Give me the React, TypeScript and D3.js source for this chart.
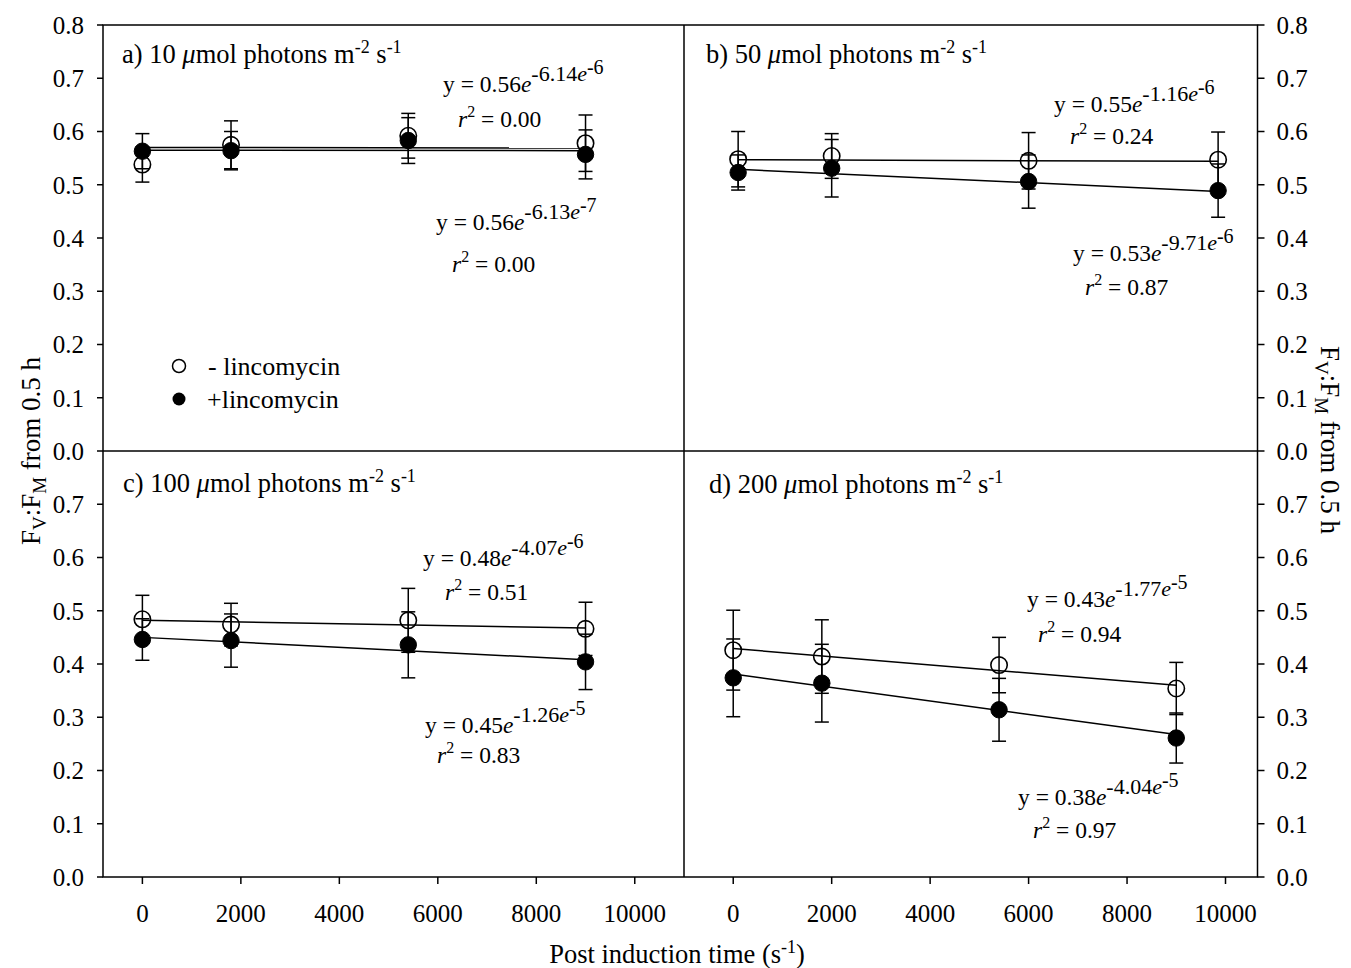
import React from 'react';
import * as d3 from 'd3';

const W = 1351;
const H = 968;
const LEFT = 103;
const MID_X = 684;
const RIGHT = 1257.5;
const TOP = 25;
const MID_Y = 451;
const BOTTOM = 877;
const FONT = '"Liberation Serif", "Times New Roman", serif';

// panel labels and light intensity (umol photons m-2 s-1)
const PANEL_LETTERS = ['a', 'b', 'c', 'd'];
const INTENSITIES = [10, 50, 100, 200];

// sampling times (s)
const TIMES_A = [0, 1800, 5400, 9000];
const TIMES_B = [100, 2000, 6000, 9850];
const TIMES_C = [0, 1800, 5400, 9000];
const TIMES_D = [0, 1800, 5400, 9000];

// - lincomycin (open) means and errors
const OPEN_A = [0.538, 0.575, 0.592, 0.578];
const OPEN_ERR_A = [0.033, 0.045, 0.042, 0.053];
const OPEN_B = [0.548, 0.554, 0.545, 0.547];
const OPEN_ERR_B = [0.052, 0.042, 0.053, 0.052];
const OPEN_C = [0.484, 0.474, 0.482, 0.466];
const OPEN_ERR_C = [0.045, 0.04, 0.06, 0.05];
const OPEN_D = [0.426, 0.414, 0.398, 0.354];
const OPEN_ERR_D = [0.075, 0.069, 0.052, 0.049];

// + lincomycin (filled) means and errors
const FILLED_A = [0.563, 0.564, 0.583, 0.557];
const FILLED_ERR_A = [0.033, 0.036, 0.043, 0.046];
const FILLED_B = [0.523, 0.531, 0.506, 0.489];
const FILLED_ERR_B = [0.033, 0.054, 0.05, 0.05];
const FILLED_C = [0.446, 0.444, 0.436, 0.404];
const FILLED_ERR_C = [0.039, 0.05, 0.062, 0.052];
const FILLED_D = [0.374, 0.364, 0.314, 0.261];
const FILLED_ERR_D = [0.073, 0.073, 0.059, 0.047];

// fitted line values at first and last time
const FIT_OPEN = [[0.570, 0.569], [0.547, 0.544], [0.482, 0.4675], [0.429, 0.36]];
const FIT_FILLED = [[0.565, 0.564], [0.529, 0.4875], [0.45, 0.408], [0.381, 0.2675]];

// equation labels: [coefficient, exponent mantissa, exponent power, r2]
const EQ_OPEN = [
  ['0.56', '-6.14', '-6', '0.00'],
  ['0.55', '-1.16', '-6', '0.24'],
  ['0.48', '-4.07', '-6', '0.51'],
  ['0.43', '-1.77', '-5', '0.94'],
];
const EQ_FILLED = [
  ['0.56', '-6.13', '-7', '0.00'],
  ['0.53', '-9.71', '-6', '0.87'],
  ['0.45', '-1.26', '-5', '0.83'],
  ['0.38', '-4.04', '-5', '0.97'],
];

const X_TICKS = [0, 2000, 4000, 6000, 8000, 10000];
const Y_TICKS_TOP = [0, 0.1, 0.2, 0.3, 0.4, 0.5, 0.6, 0.7, 0.8];
const Y_TICKS_BOTTOM = [0, 0.1, 0.2, 0.3, 0.4, 0.5, 0.6, 0.7];

const LEGEND = ['- lincomycin', '+lincomycin'];

const PANELS = [
  { x0: LEFT, x1: MID_X, y0: TOP, y1: MID_Y, dom: [-800, 11000], times: TIMES_A, open: OPEN_A, openErr: OPEN_ERR_A, filled: FILLED_A, filledErr: FILLED_ERR_A },
  { x0: MID_X, x1: RIGHT, y0: TOP, y1: MID_Y, dom: [-1000, 10650], times: TIMES_B, open: OPEN_B, openErr: OPEN_ERR_B, filled: FILLED_B, filledErr: FILLED_ERR_B },
  { x0: LEFT, x1: MID_X, y0: MID_Y, y1: BOTTOM, dom: [-800, 11000], times: TIMES_C, open: OPEN_C, openErr: OPEN_ERR_C, filled: FILLED_C, filledErr: FILLED_ERR_C },
  { x0: MID_X, x1: RIGHT, y0: MID_Y, y1: BOTTOM, dom: [-1000, 10650], times: TIMES_D, open: OPEN_D, openErr: OPEN_ERR_D, filled: FILLED_D, filledErr: FILLED_ERR_D },
];

// text placement [eq open x,y, r2 x,y, eq filled x,y, r2 x,y]
const EQ_POS = [
  [443, 92, 458, 127, 436, 230, 452, 272],
  [1054, 112, 1070, 144, 1073, 261, 1085, 295],
  [423, 566, 445, 600, 425, 733, 437, 763],
  [1027, 607, 1038, 642, 1018, 805, 1033, 838],
];
const TITLE_POS = [[122, 63], [706, 63], [123, 492], [709, 493]];

function Equation({ x, y, eq }) {
  return (
    <text x={x} y={y} fontSize={23.5}>
      y = {eq[0]}
      <tspan fontStyle="italic">e</tspan>
      <tspan dy={-11} fontSize={22}>{eq[1]}</tspan>
      <tspan fontStyle="italic" fontSize={22}>e</tspan>
      <tspan dy={-7} fontSize={20}>{eq[2]}</tspan>
    </text>
  );
}

function R2({ x, y, v }) {
  return (
    <text x={x} y={y} fontSize={23.5}>
      <tspan fontStyle="italic">r</tspan>
      <tspan dy={-10} fontSize={16}>2</tspan>
      <tspan dy={10}> = {v}</tspan>
    </text>
  );
}

function Panel({ p, i }) {
  const x = d3.scaleLinear().domain(p.dom).range([p.x0, p.x1]);
  const y = d3.scaleLinear().domain([0, 0.8]).range([p.y1, p.y0]);
  const line = d3.line<[number, number]>().x((d) => x(d[0])).y((d) => y(d[1]));
  const tFirst = p.times[0];
  const tLast = p.times[p.times.length - 1];
  const fitO = line([[tFirst, FIT_OPEN[i][0]], [tLast, FIT_OPEN[i][1]]]);
  const fitF = line([[tFirst, FIT_FILLED[i][0]], [tLast, FIT_FILLED[i][1]]]);
  const cap = 7;
  const bars = (means, errs) =>
    p.times.map((t, j) => {
      const cx = x(t);
      const yt = y(means[j] + errs[j]);
      const yb = y(means[j] - errs[j]);
      return (
        <g key={j}>
          <line x1={cx} x2={cx} y1={yt} y2={yb} />
          <line x1={cx - cap} x2={cx + cap} y1={yt} y2={yt} />
          <line x1={cx - cap} x2={cx + cap} y1={yb} y2={yb} />
        </g>
      );
    });
  const pos = EQ_POS[i];
  const tp = TITLE_POS[i];
  return (
    <g>
      <g stroke="#000" strokeWidth={1.5} fill="none">
        <path d={fitO} />
        <path d={fitF} />
        {bars(p.open, p.openErr)}
        {bars(p.filled, p.filledErr)}
      </g>
      {p.times.map((t, j) => (
        <circle key={'o' + j} cx={x(t)} cy={y(p.open[j])} r={8.2} fill="none" stroke="#000" strokeWidth={1.6} />
      ))}
      {p.times.map((t, j) => (
        <circle key={'f' + j} cx={x(t)} cy={y(p.filled[j])} r={8.2} fill="#000" stroke="#000" strokeWidth={1} />
      ))}
      <text x={tp[0]} y={tp[1]} fontSize={26.5}>
        {PANEL_LETTERS[i]}) {INTENSITIES[i]} <tspan fontStyle="italic">μ</tspan>mol photons m
        <tspan dy={-10} fontSize={18}>-2</tspan>
        <tspan dy={10}> s</tspan>
        <tspan dy={-10} fontSize={18}>-1</tspan>
      </text>
      <Equation x={pos[0]} y={pos[1]} eq={EQ_OPEN[i]} />
      <R2 x={pos[2]} y={pos[3]} v={EQ_OPEN[i][3]} />
      <Equation x={pos[4]} y={pos[5]} eq={EQ_FILLED[i]} />
      <R2 x={pos[6]} y={pos[7]} v={EQ_FILLED[i][3]} />
    </g>
  );
}

function YTitle({ transform }) {
  return (
    <text transform={transform} fontSize={27} textAnchor="middle">
      F<tspan dy={6} fontSize={19}>V</tspan>
      <tspan dy={-6}>:F</tspan>
      <tspan dy={6} fontSize={19}>M</tspan>
      <tspan dy={-6}> from 0.5 h</tspan>
    </text>
  );
}

export default function App() {
  const yTop = d3.scaleLinear().domain([0, 0.8]).range([MID_Y, TOP]);
  const yBot = d3.scaleLinear().domain([0, 0.8]).range([BOTTOM, MID_Y]);
  const xL = d3.scaleLinear().domain(PANELS[2].dom).range([LEFT, MID_X]);
  const xR = d3.scaleLinear().domain(PANELS[3].dom).range([MID_X, RIGHT]);
  const fmt = d3.format('.1f');
  const yTicks = [
    ...Y_TICKS_TOP.map((v) => ({ v, py: yTop(v) })),
    ...Y_TICKS_BOTTOM.map((v) => ({ v, py: yBot(v) })),
  ];
  return (
    <svg
      width={W}
      height={H}
      style={{ position: 'absolute', left: 0, top: 0, background: '#fff', fontFamily: FONT }}
    >
      <rect width={W} height={H} fill="#fff" />
      {PANELS.map((p, i) => (
        <Panel key={i} p={p} i={i} />
      ))}
      {/* frame and dividers */}
      <g stroke="#000" strokeWidth={1.5} fill="none">
        <rect x={LEFT} y={TOP} width={RIGHT - LEFT} height={BOTTOM - TOP} />
        <line x1={MID_X} x2={MID_X} y1={TOP} y2={BOTTOM} />
        <line x1={LEFT} x2={RIGHT} y1={MID_Y} y2={MID_Y} />
        {yTicks.map((t, k) => (
          <g key={k}>
            <line x1={LEFT - 6} x2={LEFT} y1={t.py} y2={t.py} />
            <line x1={RIGHT} x2={RIGHT + 7} y1={t.py} y2={t.py} />
          </g>
        ))}
        {X_TICKS.map((v) => (
          <g key={v}>
            <line x1={xL(v)} x2={xL(v)} y1={BOTTOM} y2={BOTTOM + 7} />
            <line x1={xR(v)} x2={xR(v)} y1={BOTTOM} y2={BOTTOM + 7} />
          </g>
        ))}
      </g>
      <g fontSize={25}>
        {yTicks.map((t, k) => (
          <g key={k}>
            <text x={LEFT - 19} y={t.py} dy="0.35em" textAnchor="end">{fmt(t.v)}</text>
            <text x={RIGHT + 19} y={t.py} dy="0.35em">{fmt(t.v)}</text>
          </g>
        ))}
        {X_TICKS.map((v) => (
          <g key={v}>
            <text x={xL(v)} y={922} textAnchor="middle">{v}</text>
            <text x={xR(v)} y={922} textAnchor="middle">{v}</text>
          </g>
        ))}
      </g>
      {/* legend */}
      <circle cx={179} cy={366} r={6.5} fill="none" stroke="#000" strokeWidth={1.5} />
      <circle cx={179} cy={399} r={6.5} fill="#000" />
      <text x={208} y={375} fontSize={26}>{LEGEND[0]}</text>
      <text x={207} y={408} fontSize={26}>{LEGEND[1]}</text>
      {/* axis titles */}
      <text x={677} y={963} fontSize={26.5} textAnchor="middle">
        Post induction time (s<tspan dy={-10} fontSize={18}>-1</tspan><tspan dy={10}>)</tspan>
      </text>
      <YTitle transform={`translate(40, ${MID_Y}) rotate(-90)`} />
      <YTitle transform="translate(1321, 440) rotate(90)" />
    </svg>
  );
}
